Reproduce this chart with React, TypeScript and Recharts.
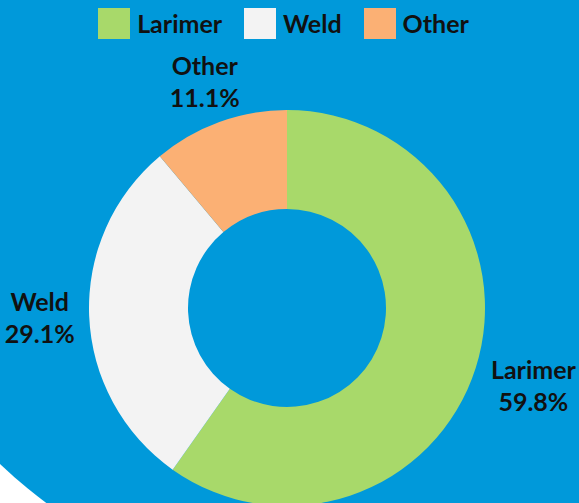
import { Cell, Pie, PieChart } from "recharts";

const counties = ["Larimer", "Weld", "Other"];
const shares = [59.8, 29.1, 11.1];
const colors = ["#a8d96a", "#f3f3f3", "#fbb074"];

const data = counties.map((name, i) => ({ name, value: shares[i] }));

const RADIAN = Math.PI / 180;
const FONT = "Lato, 'Noto Sans', sans-serif";

type LabelProps = {
  cx?: number;
  cy?: number;
  midAngle?: number;
  outerRadius?: number;
  name?: string;
  value?: number;
};

// datalabels-style: box sits just outside the ring, pushed out along the slice angle
function SliceLabel({ cx = 0, cy = 0, midAngle = 0, outerRadius = 0, name = "", value = 0 }: LabelProps) {
  const pct = `${value.toFixed(1)}%`;
  const halfW = Math.max(name.length * 12.4, pct.length * 13.8) / 2;
  const halfH = 26;
  const ux = Math.cos(-midAngle * RADIAN);
  const uy = Math.sin(-midAngle * RADIAN);
  const toEdge = Math.min(
    Math.abs(ux) > 0.001 ? halfW / Math.abs(ux) : Infinity,
    Math.abs(uy) > 0.001 ? halfH / Math.abs(uy) : Infinity
  );
  const r = outerRadius + 15 + toEdge;
  const x = cx + r * ux;
  const y = cy + r * uy;

  return (
    <text
      x={x}
      y={y}
      textAnchor="middle"
      fill="#111"
      fontFamily={FONT}
      fontWeight={700}
      fontSize={25}
    >
      <tspan x={x} y={y - 7}>
        {name}
      </tspan>
      <tspan x={x} y={y + 25}>
        {pct}
      </tspan>
    </text>
  );
}

function TopLegend() {
  return (
    <div
      style={{
        position: "absolute",
        top: 8,
        left: 0,
        width: 579,
        display: "flex",
        justifyContent: "center",
        gap: 22,
        paddingRight: 12,
        boxSizing: "border-box",
        fontFamily: FONT,
        fontWeight: 700,
        fontSize: 25,
        color: "#111",
      }}
    >
      {counties.map((name, i) => (
        <div key={name} style={{ display: "flex", alignItems: "center" }}>
          <span
            style={{
              display: "inline-block",
              width: 32,
              height: 31,
              background: colors[i],
              marginRight: 7,
            }}
          />
          <span style={{ lineHeight: "31px" }}>{name}</span>
        </div>
      ))}
    </div>
  );
}

export default function App() {
  return (
    <div
      style={{
        position: "absolute",
        left: 0,
        top: 0,
        width: 579,
        height: 503,
        overflow: "hidden",
        background: "#ffffff",
      }}
    >
      <div
        style={{
          position: "absolute",
          left: -155,
          top: -398,
          width: 1000,
          height: 1000,
          borderRadius: "50%",
          background: "#0099da",
        }}
      />
      <div style={{ position: "absolute", left: 0, top: 0 }}>
        <PieChart width={579} height={503} margin={{ top: 0, right: 0, bottom: 0, left: 0 }}>
          <Pie
            data={data}
            dataKey="value"
            nameKey="name"
            cx={287}
            cy={308}
            innerRadius={99}
            outerRadius={198}
            startAngle={90}
            endAngle={-270}
            stroke="none"
            labelLine={false}
            label={SliceLabel}
            isAnimationActive={false}
          >
            {data.map((d, i) => (
              <Cell key={d.name} fill={colors[i]} />
            ))}
          </Pie>
        </PieChart>
      </div>
      <TopLegend />
    </div>
  );
}
